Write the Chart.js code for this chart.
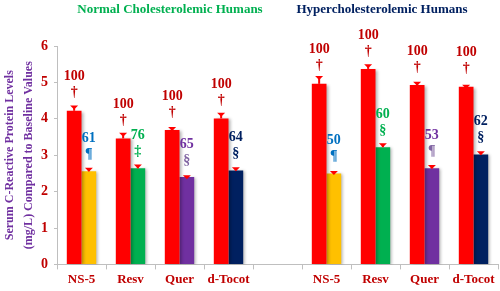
<!DOCTYPE html>
<html>
<head>
<meta charset="utf-8">
<script src="https://cdn.jsdelivr.net/npm/chart.js@4.4.0/dist/chart.umd.min.js"></script>
<style>
  body { margin: 0; background: #fff; }
  #wrap { width: 500px; height: 291px; }
</style>
</head>
<body>
<div id="wrap"><canvas id="crp" width="500" height="291"></canvas></div>
<script>
// categories (empty slot separates the two groups)
var categories = ['NS-5', 'Resv', 'Quer', 'd-Tocot', '', 'NS-5', 'Resv', 'Quer', 'd-Tocot'];

// baseline (red) values and errors, mg/L
var baseline    = [4.22, 3.46, 3.69, 4.01, null, 4.96, 5.37, 4.93, 4.88];
var baselineErr = [0.12, 0.13, 0.06, 0.13, null, 0.19, 0.10, 0.06, 0.03];

// after treatment values and errors
var treated    = [2.56, 2.64, 2.40, 2.58, null, 2.50, 3.22, 2.64, 3.02];
var treatedErr = [0.07, 0.08, 0.02, 0.06, null, 0.04, 0.08, 0.06, 0.06];

// percentage labels and significance marks
var baselineLabels = ['100', '100', '100', '100', '', '100', '100', '100', '100'];
var baselineMarks  = ['\u2020', '\u2020', '\u2020', '\u2020', '', '\u2020', '\u2020', '\u2020', '\u2020'];
var treatedLabels  = ['61', '76', '65', '64', '', '50', '60', '53', '62'];
var treatedMarks   = ['\u00B6', '\u2021', '\u00A7', '\u00A7', '', '\u00B6', '\u00A7', '\u00B6', '\u00A7'];

var treatedColors = ['#FFC000', '#00B050', '#7030A0', '#002060', '#fff', '#FFC000', '#00B050', '#7030A0', '#002060'];
var treatedTextColors = ['#0070C0', '#00B050', '#7030A0', '#002060', '#fff', '#0070C0', '#00B050', '#7030A0', '#002060'];
var treatedMarkColors = ['#0070C0', '#00B050', '#8064A2', '#002060', '#fff', '#0070C0', '#00B050', '#8064A2', '#002060'];

var serif = "'Liberation Serif', 'Times New Roman', serif";

var errorBars = {
  id: 'errorBars',
  afterDatasetsDraw: function(chart) {
    var ctx = chart.ctx;
    var y = chart.scales.y;
    var errs = [baselineErr, treatedErr];
    ctx.save();
    ctx.strokeStyle = '#FF0000';
    ctx.fillStyle = '#FF0000';
    ctx.lineWidth = 2;
    chart.data.datasets.forEach(function(ds, d) {
      chart.getDatasetMeta(d).data.forEach(function(bar, i) {
        var v = ds.data[i];
        if (v == null) return;
        var top = y.getPixelForValue(v + errs[d][i]);
        ctx.beginPath();
        ctx.moveTo(bar.x, bar.y);
        ctx.lineTo(bar.x, top);
        ctx.stroke();
        ctx.beginPath();
        ctx.moveTo(bar.x - 4, top - 1);
        ctx.lineTo(bar.x + 4, top - 1);
        ctx.lineTo(bar.x, top + 3);
        ctx.closePath();
        ctx.fill();
      });
    });
    ctx.restore();
  }
};

var barText = {
  id: 'barText',
  afterDraw: function(chart) {
    var ctx = chart.ctx;
    ctx.save();
    ctx.textAlign = 'center';
    ctx.textBaseline = 'middle';
    ctx.font = 'bold 14px ' + serif;
    chart.getDatasetMeta(0).data.forEach(function(bar, i) {
      if (!baselineLabels[i]) return;
      ctx.fillStyle = '#C00000';
      ctx.fillText(baselineLabels[i], bar.x, bar.y - 34);
      ctx.fillText(baselineMarks[i], bar.x, bar.y - 18);
    });
    chart.getDatasetMeta(1).data.forEach(function(bar, i) {
      if (!treatedLabels[i]) return;
      ctx.fillStyle = treatedTextColors[i];
      ctx.fillText(treatedLabels[i], bar.x, bar.y - 33);
      ctx.fillStyle = treatedMarkColors[i];
      ctx.fillText(treatedMarks[i], bar.x, bar.y - 17);
    });
    // group headings
    ctx.font = 'bold 13px ' + serif;
    ctx.fillStyle = '#00B050';
    ctx.fillText('Normal Cholesterolemic Humans', 170, 10);
    ctx.fillStyle = '#002060';
    ctx.fillText('Hypercholesterolemic Humans', 382, 10);
    ctx.restore();
  }
};

var barShadow = {
  id: 'barShadow',
  beforeDatasetsDraw: function(chart) {
    var ctx = chart.ctx;
    ctx.save();
    ctx.shadowColor = 'rgba(0,0,0,0.3)';
    ctx.shadowBlur = 3;
    ctx.shadowOffsetX = 2;
    ctx.shadowOffsetY = 1;
  },
  afterDatasetsDraw: function(chart) {
    chart.ctx.restore();
  }
};

var chart = new Chart(document.getElementById('crp'), {
  type: 'bar',
  data: {
    labels: categories,
    datasets: [
      { label: 'Baseline', data: baseline, backgroundColor: '#FF0000', borderWidth: 0 },
      { label: 'Treated', data: treated, backgroundColor: treatedColors, borderWidth: 0 }
    ]
  },
  options: {
    responsive: false,
    animation: false,
    layout: { padding: { top: 46, right: 2, left: 0, bottom: 2 } },
    datasets: { bar: { categoryPercentage: 0.6, barPercentage: 1.0 } },
    plugins: { legend: { display: false }, tooltip: { enabled: false } },
    scales: {
      x: {
        grid: { offset: true, drawOnChartArea: false, drawTicks: true, tickLength: 5, color: '#BFBFBF' },
        border: { color: '#BFBFBF', width: 1 },
        ticks: { color: '#C00000', font: { family: serif, size: 13, weight: 'bold' }, padding: 2, maxRotation: 0, autoSkip: false }
      },
      y: {
        min: 0,
        max: 6,
        afterFit: function(scale) { scale.width = 57; },
        grid: { drawOnChartArea: false, drawTicks: true, tickLength: 3, color: '#BFBFBF' },
        border: { color: '#BFBFBF', width: 1 },
        ticks: { stepSize: 1, color: '#C00000', font: { family: serif, size: 14, weight: 'bold' }, padding: 6 },
        title: {
          display: true,
          text: ['Serum C-Reactive Protein Levels', '(mg/L) Compared to Baseline Values'],
          color: '#7030A0',
          font: { family: serif, size: 12, weight: 'bold', lineHeight: 1.55 },
          padding: { top: 1, bottom: 0 }
        }
      }
    }
  },
  plugins: [barShadow, errorBars, barText]
});
</script>
</body>
</html>
